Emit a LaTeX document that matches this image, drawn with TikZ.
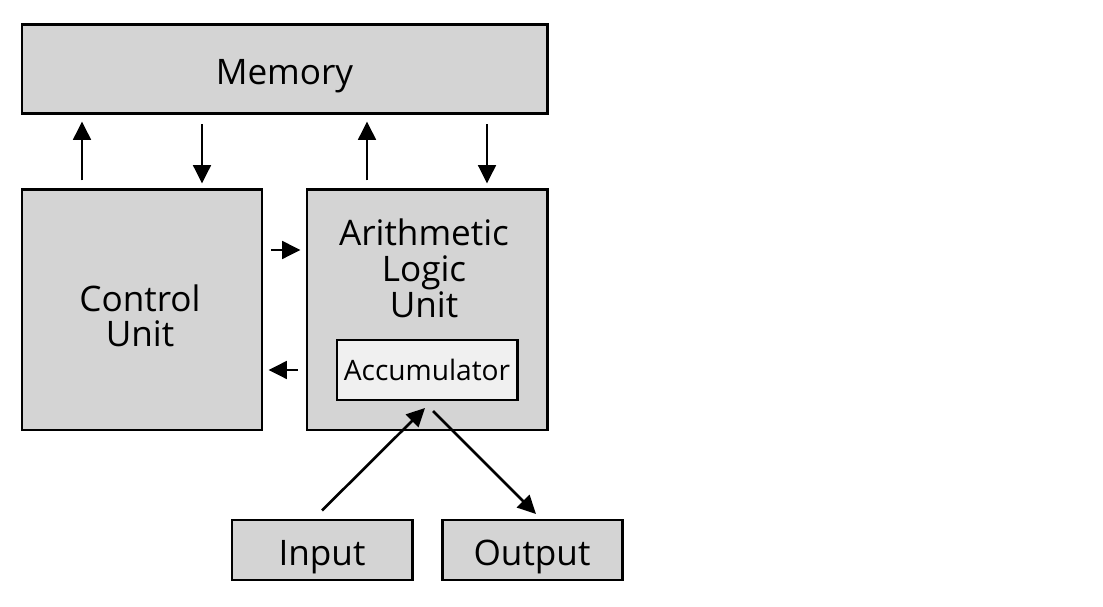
\documentclass[tikz,border=0pt]{standalone}
\usepackage{fontspec}
\setmainfont{Open Sans}
\usetikzlibrary{arrows.meta}

\begin{document}
\begin{tikzpicture}[
        unitbox/.style={rectangle, draw=black, fill=black!17, line width=0.85pt, inner sep=0pt, font=\fontsize{10}{10}\selectfont, text height=8.8pt, text depth=0pt},
        accbox/.style={rectangle, draw=black, fill=black!6, line width=0.85pt, inner sep=0pt, font=\fontsize{8}{10}\selectfont},
        boxtext/.style={align=center, font=\fontsize{10}{10}\selectfont},
        arr/.style={-{Triangle[length=5.2pt,width=5pt]}, line width=0.75pt},
        ]
            \useasboundingbox (0,0) rectangle (11.03,-6.07);

            \node[unitbox, minimum width=5.25cm, minimum height=0.89cm] at(2.845,-0.695) (mem) {Memory};
            \node[unitbox, minimum width=2.40cm, minimum height=2.40cm] at(1.42,-3.10) (cu) {};
            \node[boxtext] at(1.40,-3.16) (cutext) {Control\\ Unit};
            \node[unitbox, minimum width=2.40cm, minimum height=2.40cm] at(4.27,-3.10) (alu) {};
            \node[boxtext, font=\fontsize{10}{10.2}\selectfont] at(4.24,-2.68) (alutext) {Arithmetic\\ Logic\\ Unit};
            \node[accbox, minimum width=1.80cm, minimum height=0.60cm] at(4.27,-3.70) (acc) {Accumulator};
            \node[unitbox, minimum width=1.80cm, minimum height=0.60cm] at(3.22,-5.50) (inp) {Input};
            \node[unitbox, minimum width=1.80cm, minimum height=0.60cm] at(5.32,-5.50) (out) {Output};

            \coordinate (accin) at (4.25,-4.08);
            \coordinate (accout) at (4.33,-4.11);
            \coordinate (outin) at (5.36,-5.14);

            \draw[arr, shorten <=0.08cm, shorten >=0.06cm] ([xshift=-6mm]cu.north) -- ([xshift=-6mm]cu.north |- mem.south);
            \draw[arr, shorten <=0.09cm, shorten >=0.05cm] ([xshift=6mm]cu.north |- mem.south) -- ([xshift=6mm]cu.north);
            \draw[arr, shorten <=0.08cm, shorten >=0.06cm] ([xshift=-6mm]alu.north) -- ([xshift=-6mm]alu.north |- mem.south);
            \draw[arr, shorten <=0.09cm, shorten >=0.05cm] ([xshift=6mm]alu.north |- mem.south) -- ([xshift=6mm]alu.north);
            \draw[arr, shorten <=0.08cm, shorten >=0.05cm] ([yshift=6mm]cu.east) -- ([yshift=6mm]cu.east -| alu.west);
            \draw[arr, shorten <=0.08cm, shorten >=0.05cm] ([yshift=-6mm]alu.west) -- ([yshift=-6mm]alu.west -| cu.east);
            \draw[arr] ([yshift=0.08cm]inp.north) -- (accin);
            \draw[arr] (accout) -- (outin);

\end{tikzpicture}
\end{document}
